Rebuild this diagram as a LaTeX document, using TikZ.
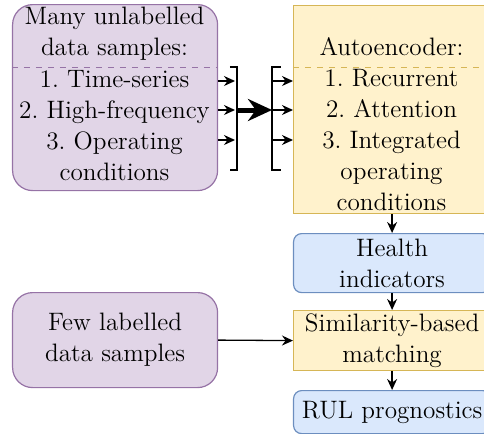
\documentclass[tikz,border=0pt]{standalone}
\usepackage{tikz}
\usetikzlibrary{arrows.meta,positioning,calc}
\definecolor{vpurf}{HTML}{E1D5E7}
\definecolor{vpurd}{HTML}{9673A6}
\definecolor{vyelf}{HTML}{FFF2CC}
\definecolor{vyeld}{HTML}{D6B656}
\definecolor{vbluf}{HTML}{DAE8FC}
\definecolor{vblud}{HTML}{6C8EBF}
\tikzset{
  purpbox/.style={fill=vpurf,draw=vpurd,rounded corners=10pt,line width=0.6pt,anchor=north west,inner sep=0pt,align=center,font=\fontsize{12.6}{15.5}\selectfont},
  yellbox/.style={fill=vyelf,draw=vyeld,line width=0.6pt,anchor=north west,inner sep=0pt,align=center,font=\fontsize{12.6}{15.5}\selectfont},
  bluebox/.style={fill=vbluf,draw=vblud,rounded corners=4pt,line width=0.6pt,anchor=north west,inner sep=0pt,align=center,font=\fontsize{12.6}{15.5}\selectfont},
  txt/.style={align=center,inner sep=0pt,font=\fontsize{12.6}{15.5}\selectfont},
  arr/.style={-{Stealth[length=5.5pt,width=5pt]},line width=0.65pt},
  bigarr/.style={-{Stealth[length=12pt,width=11pt]},line width=2.5pt},
  brk/.style={line width=0.65pt},
  divline/.style={dashed,line width=0.5pt},
}
\frenchspacing
\begin{document}
\begin{tikzpicture}[x=1pt,y=-1pt]
  \useasboundingbox (0,0) rectangle (242,217);
  % left column
  \node[purpbox,minimum width=102.5pt,minimum height=93pt] (unlab) at (6,2) {};
  \coordinate (divy) at (0,33.5);
  \draw[divline,vpurd] (unlab.west |- divy) -- (unlab.east |- divy);
  \node[txt] (unlabhead) at (57.25,17) {Many unlabelled\\data samples:};
  \node[txt] (unlablist) at (57.25,63) {1. Time-series\\2. High-frequency\\3. Operating\\conditions};
  \node[purpbox,minimum width=102.5pt,minimum height=47.5pt] (labd) at (6,146) {Few labelled\\data samples};
  % right column
  \node[yellbox,minimum width=98.5pt,minimum height=104pt] (auto) at (146.5,2.5) {};
  \draw[divline,vyeld] (auto.west |- divy) -- (auto.east |- divy);
  \node[txt] (autohead) at (195.75,23.5) {Autoencoder:};
  \node[txt] (autolist) at (195.75,70) {1. Recurrent\\2. Attention\\3. Integrated\\operating\\conditions};
  \node[bluebox,minimum width=98.5pt,minimum height=29.5pt] (health) at (146.5,116.5) {Health\\indicators};
  \node[yellbox,minimum width=98.5pt,minimum height=30pt] (simil) at (146.5,155) {Similarity-based\\matching};
  \node[bluebox,minimum width=98.5pt,minimum height=21.5pt] (rul) at (146.5,195) {RUL prognostics};
  % brackets and arrows
  \coordinate (brL) at (118.5,55);
  \coordinate (brR) at (136,55);
  \draw[brk] ($(brL)+(-3.5,-21.5)$) -- ++(3.5,0) -- ++(0,51.5) -- ++(-3.5,0);
  \draw[brk] ($(brR)+(4.5,-21.5)$) -- ++(-4.5,0) -- ++(0,51.5) -- ++(4.5,0);
  \foreach \yy [count=\i] in {40.5,55,70} {
    \coordinate (row\i) at (0,\yy);
    \draw[arr,shorten >=1pt] (unlab.east |- row\i) -- (brL |- row\i);
    \draw[arr] (brR |- row\i) -- (auto.west |- row\i);
  }
  \draw[bigarr] (brL) -- (brR);
  \draw[arr] (auto.south) -- (health.north);
  \draw[arr] (health.south) -- (simil.north);
  \draw[arr] (simil.south) -- (rul.north);
  \draw[arr] (labd.east) -- (simil.west);
\end{tikzpicture}
\end{document}
